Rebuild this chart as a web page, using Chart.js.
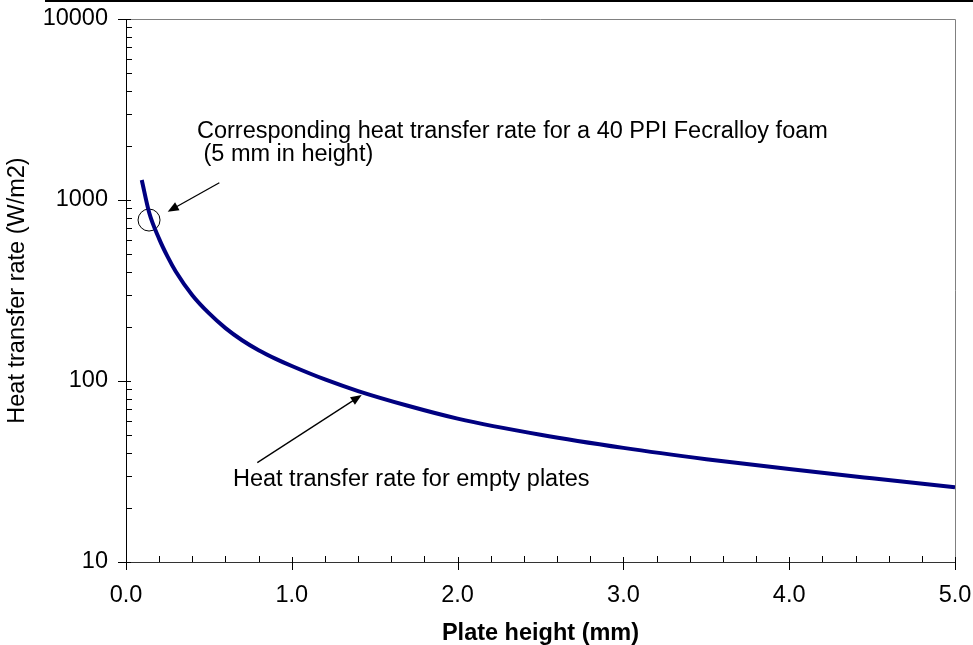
<!DOCTYPE html>
<html>
<head>
<meta charset="utf-8">
<script src="https://cdn.jsdelivr.net/npm/chart.js@4.4.1/dist/chart.umd.min.js"></script>
<style>
  html, body { margin: 0; background: #fff; }
  #wrap { width: 973px; height: 645px; }
</style>
</head>
<body>
<div id="wrap"><canvas id="chart" width="973" height="645"></canvas></div>
<script>
// Empty-plate heat transfer rate vs plate height.
const plateHeight = [0.095, 0.14, 0.2, 0.25, 0.3, 0.4, 0.5, 0.6, 0.7, 0.8, 0.9, 1.0, 1.2, 1.4, 1.7, 2.0, 2.5, 3.0, 3.5, 4.0, 4.5, 5.0];
const heatRate    = [1290, 850, 610, 488, 403, 298, 237, 196, 168, 148, 133, 121, 102, 88, 73, 62, 50.5, 42.7, 37, 32.6, 29, 25.9];

// Foam reference point (circled).
const foamHeight = [0.139];
const foamRate   = [775];

// Axis ticks.
const xMajor = [0, 1, 2, 3, 4, 5];
const xMinor = [0.2, 0.4, 0.6, 0.8, 1.2, 1.4, 1.6, 1.8, 2.2, 2.4, 2.6, 2.8, 3.2, 3.4, 3.6, 3.8, 4.2, 4.4, 4.6, 4.8];
const yMajor = [10, 100, 1000, 10000];
const yMinor = [20, 30, 40, 50, 60, 70, 80, 90, 200, 300, 400, 500, 600, 700, 800, 900, 2000, 3000, 4000, 5000, 6000, 7000, 8000, 9000];

// Annotation texts and arrows, anchored in data units.
const noteLines = ['Corresponding heat transfer rate for a 40 PPI Fecralloy foam', ' (5 mm in height)', 'Heat transfer rate for empty plates'];
const noteAt    = [[0.428, 2200], [0.428, 1632], [0.645, 26.3]];
const arrowFrom = [[0.563, 1246], [0.792, 35.4]];
const arrowTo   = [[0.2515, 862], [1.4216, 83.7]];

const FONT = "'Liberation Sans', Arial, sans-serif";
const FS = 23.5;

const decor = {
  id: 'decor',
  afterDraw(chart) {
    const { ctx, chartArea: a, scales: { x, y } } = chart;
    ctx.save();
    // strip at the very top
    ctx.fillStyle = '#000';
    ctx.fillRect(45, 0, 928, 2);

    // plot frame: top and right in grey
    ctx.strokeStyle = '#808080';
    ctx.lineWidth = 1;
    ctx.beginPath();
    ctx.moveTo(a.left, a.top + 0.5); ctx.lineTo(a.right + 0.5, a.top + 0.5);
    ctx.lineTo(a.right + 0.5, a.bottom);
    ctx.stroke();

    // tick marks
    ctx.strokeStyle = '#000';
    ctx.beginPath();
    yMajor.forEach((v) => { const p = Math.round(y.getPixelForValue(v)) + 0.5; ctx.moveTo(a.left - 8, p); ctx.lineTo(a.left + 5, p); });
    yMinor.forEach((v) => { const p = Math.round(y.getPixelForValue(v)) + 0.5; ctx.moveTo(a.left, p); ctx.lineTo(a.left + 6, p); });
    xMajor.forEach((v) => { const p = Math.round(x.getPixelForValue(v)) + 0.5; ctx.moveTo(p, a.bottom - 5); ctx.lineTo(p, a.bottom + 8); });
    xMinor.forEach((v) => { const p = Math.round(x.getPixelForValue(v)) + 0.5; ctx.moveTo(p, a.bottom - 6); ctx.lineTo(p, a.bottom); });
    ctx.stroke();

    // arrows
    arrowFrom.forEach((f, i) => {
      const x0 = x.getPixelForValue(f[0]), y0 = y.getPixelForValue(f[1]);
      const x1 = x.getPixelForValue(arrowTo[i][0]), y1 = y.getPixelForValue(arrowTo[i][1]);
      const ang = Math.atan2(y1 - y0, x1 - x0);
      ctx.lineWidth = 1.3;
      ctx.beginPath(); ctx.moveTo(x0, y0);
      ctx.lineTo(x1 - 8 * Math.cos(ang), y1 - 8 * Math.sin(ang)); ctx.stroke();
      ctx.beginPath();
      ctx.moveTo(x1, y1);
      ctx.lineTo(x1 - 11 * Math.cos(ang) + 4.5 * Math.sin(ang), y1 - 11 * Math.sin(ang) - 4.5 * Math.cos(ang));
      ctx.lineTo(x1 - 11 * Math.cos(ang) - 4.5 * Math.sin(ang), y1 - 11 * Math.sin(ang) + 4.5 * Math.cos(ang));
      ctx.closePath(); ctx.fill();
    });

    // annotation text
    ctx.fillStyle = '#000';
    ctx.font = `${FS}px ${FONT}`;
    ctx.textAlign = 'left';
    ctx.textBaseline = 'alphabetic';
    noteLines.forEach((t, i) => {
      ctx.fillText(t, x.getPixelForValue(noteAt[i][0]), y.getPixelForValue(noteAt[i][1]));
    });
    ctx.restore();
  },
};

// grid kept "on" but invisible, so its tickLength spaces the labels without
// inflating the scale's edge padding (ticks.padding does that)
const hiddenGrid = (len) => ({ display: true, drawOnChartArea: false, drawTicks: true, tickLength: len, color: 'rgba(0,0,0,0)' });

new Chart(document.getElementById('chart'), {
  type: 'scatter',
  data: {
    datasets: [
      {
        label: 'Empty plates',
        data: plateHeight.map((h, i) => ({ x: h, y: heatRate[i] })),
        showLine: true,
        borderColor: '#000080',
        borderWidth: 4,
        pointRadius: 0,
        cubicInterpolationMode: 'monotone',
        fill: false,
      },
      {
        label: '40 PPI Fecralloy foam',
        data: foamHeight.map((h, i) => ({ x: h, y: foamRate[i] })),
        showLine: false,
        pointStyle: 'circle',
        pointRadius: 11,
        borderColor: '#000',
        borderWidth: 1,
        backgroundColor: 'rgba(0,0,0,0)',
      },
    ],
  },
  options: {
    responsive: false,
    animation: false,
    layout: { padding: { left: 0, right: 18, top: 19, bottom: 0 } },
    plugins: { legend: { display: false }, tooltip: { enabled: false } },
    scales: {
      x: {
        type: 'linear',
        min: 0, max: 5,
        afterBuildTicks: (s) => { s.ticks = xMajor.map((v) => ({ value: v })); },
        afterFit: (s) => { s.height = 83; },
        grid: hiddenGrid(19),
        border: { display: true, color: '#333', width: 1 },
        ticks: { color: '#000', padding: 0, maxRotation: 0, font: { family: FONT, size: FS }, callback: (v) => Number(v).toFixed(1) },
        title: { display: true, text: 'Plate height (mm)', color: '#000', padding: { top: 0, bottom: 0 },
                 font: { family: FONT, size: FS, weight: 'bold', lineHeight: 1 } },
      },
      y: {
        type: 'logarithmic',
        min: 10, max: 10000,
        afterBuildTicks: (s) => { s.ticks = yMajor.map((v) => ({ value: v })); },
        afterFit: (s) => { s.width = 126; },
        grid: hiddenGrid(18),
        border: { display: true, color: '#000', width: 1 },
        ticks: { color: '#000', padding: 0, font: { family: FONT, size: FS }, callback: (v) => String(v) },
        title: { display: true, text: 'Heat transfer rate (W/m2)', color: '#000', padding: { top: 6, bottom: 0 },
                 font: { family: FONT, size: FS, lineHeight: 1 } },
      },
    },
  },
  plugins: [decor],
});
</script>
</body>
</html>
